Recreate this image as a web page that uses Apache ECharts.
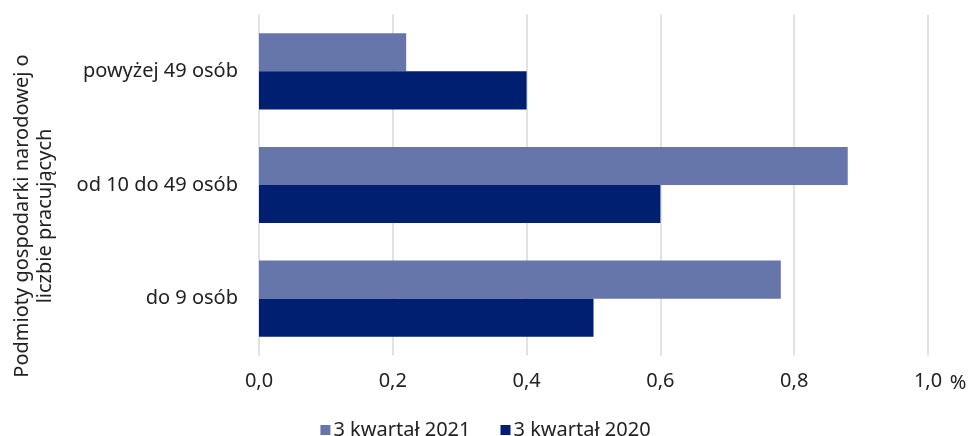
<!DOCTYPE html>
<html>
<head>
<meta charset="utf-8">
<script src="https://cdn.jsdelivr.net/npm/echarts@6/dist/echarts.min.js"></script>
<style>
html,body{margin:0;padding:0;background:#fff;}
#main{width:971px;height:436px;}
</style>
</head>
<body>
<div id="main"></div>
<script>
const categories = ['do 9 osób', 'od 10 do 49 osób', 'powyżej 49 osób'];
const seriesNames = ['3 kwartał 2021', '3 kwartał 2020'];
const values2021 = [0.78, 0.88, 0.22];
const values2020 = [0.50, 0.60, 0.40];
const axisTitle = 'Podmioty gospodarki narodowej o\nliczbie pracujących';
const unitLabel = '%';

const FONT = 'Noto Sans';
const chart = echarts.init(document.getElementById('main'), null, {renderer: 'canvas'});
chart.setOption({
  animation: false,
  textStyle: {fontFamily: FONT},
  grid: {left: 259, right: 43, top: 14.5, bottom: 80.5, containLabel: false},
  legend: {
    data: [seriesNames[0], seriesNames[1]],
    top: 415,
    left: 'center',
    itemWidth: 10,
    itemHeight: 10,
    itemGap: 30,
    icon: 'rect',
    textStyle: {fontFamily: FONT, fontSize: 20, color: '#222', padding: [0, 0, 0, -2]}
  },
  xAxis: {
    type: 'value',
    min: 0,
    max: 1,
    interval: 0.2,
    axisLine: {show: false},
    axisTick: {show: false},
    splitLine: {show: true, lineStyle: {color: '#d9d9d9', width: 1.5}},
    axisLabel: {
      fontFamily: FONT, fontSize: 20, color: '#222', margin: 16,
      formatter: v => v.toFixed(1).replace('.', ',')
    }
  },
  yAxis: {
    type: 'category',
    data: categories,
    axisLine: {show: false},
    axisTick: {show: false},
    axisLabel: {fontFamily: FONT, fontSize: 20, color: '#222', margin: 21}
  },
  series: [
    {
      name: seriesNames[0], type: 'bar', data: values2021,
      itemStyle: {color: '#6676aa'},
      barGap: '0%', barCategoryGap: '33%'
    },
    {
      name: seriesNames[1], type: 'bar', data: values2020,
      itemStyle: {color: '#001f71'},
      barGap: '0%', barCategoryGap: '33%'
    }
  ],
  graphic: [
    {
      type: 'text',
      x: 33.5, y: 216,
      rotation: Math.PI / 2,
      style: {
        text: axisTitle,
        fontFamily: FONT, fontSize: 20, fill: '#222',
        align: 'center', verticalAlign: 'middle', lineHeight: 23
      }
    },
    {
      type: 'text',
      x: 958, y: 383,
      style: {
        text: unitLabel,
        fontFamily: FONT, fontSize: 20, fill: '#222',
        align: 'center', verticalAlign: 'middle'
      }
    }
  ]
});
</script>
</body>
</html>
